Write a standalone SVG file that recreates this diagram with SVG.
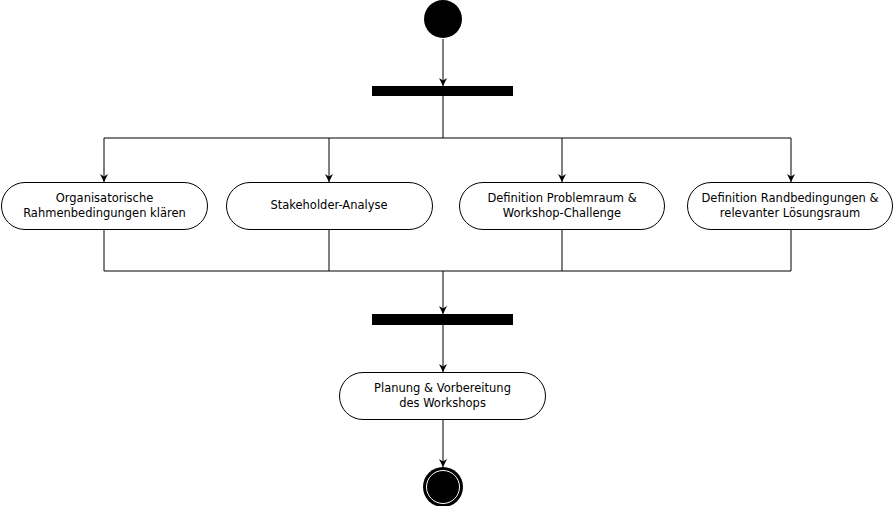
<svg xmlns="http://www.w3.org/2000/svg" width="894" height="506" viewBox="0 0 894 506">
<defs>
<marker id="arr" viewBox="0 0 10 10" refX="10" refY="5" markerWidth="8" markerHeight="8" markerUnits="userSpaceOnUse" orient="auto">
<path d="M0,0 L10,5 L0,10 L3,5 Z" fill="#000"/>
</marker>
<style>
.act{fill:#fff;stroke:#000;stroke-width:1}
.bar{fill:#000}
.t{font-family:"DejaVu Sans",Verdana,sans-serif;font-size:11.5px;fill:#000;text-anchor:middle}
.c{fill:none;stroke:#000;stroke-width:1}
</style>
</defs>
<rect width="894" height="506" fill="#fff"/>
<g id="connectors">
<path class="c" d="M443,39 V86" marker-end="url(#arr)"/>
<path class="c" d="M443,96 V138"/>
<path class="c" d="M104,138 H791"/>
<path class="c" d="M104,138 V182" marker-end="url(#arr)"/>
<path class="c" d="M329,138 V182" marker-end="url(#arr)"/>
<path class="c" d="M562,138 V182" marker-end="url(#arr)"/>
<path class="c" d="M791,138 V182" marker-end="url(#arr)"/>
<path class="c" d="M104,229 V271 H791 V229"/>
<path class="c" d="M329,229 V271"/>
<path class="c" d="M562,229 V271"/>
<path class="c" d="M443,271 V314" marker-end="url(#arr)"/>
<path class="c" d="M443,325 V372" marker-end="url(#arr)"/>
<path class="c" d="M443,419 V467" marker-end="url(#arr)"/>
</g>
<g id="start"><circle cx="443" cy="19" r="19" fill="#000"/></g>
<g id="fork"><rect class="bar" x="372" y="86" width="141" height="10"/></g>
<g id="n1"><rect class="act" x="1.5" y="182.5" width="206" height="47" rx="23.5"/>
<text class="t" x="104.5" y="202">Organisatorische</text><text class="t" x="104.5" y="217">Rahmenbedingungen klären</text></g>
<g id="n2"><rect class="act" x="226.5" y="182.5" width="206" height="47" rx="23.5"/>
<text class="t" x="329" y="209">Stakeholder-Analyse</text></g>
<g id="n3"><rect class="act" x="459.5" y="182.5" width="205" height="47" rx="23.5"/>
<text class="t" x="562" y="202">Definition Problemraum &amp;</text><text class="t" x="562" y="217">Workshop-Challenge</text></g>
<g id="n4"><rect class="act" x="687.5" y="182.5" width="205" height="47" rx="23.5"/>
<text class="t" x="790" y="202">Definition Randbedingungen &amp;</text><text class="t" x="790" y="217">relevanter Lösungsraum</text></g>
<g id="join"><rect class="bar" x="372" y="314" width="141" height="11"/></g>
<g id="n5"><rect class="act" x="339.5" y="372.5" width="206" height="47" rx="23.5"/>
<text class="t" x="442.5" y="392">Planung &amp; Vorbereitung</text><text class="t" x="442.5" y="407">des Workshops</text></g>
<g id="end"><circle cx="443" cy="487" r="20" fill="#000"/><circle cx="443" cy="487" r="16.5" fill="none" stroke="#fff" stroke-width="1"/></g>
</svg>
